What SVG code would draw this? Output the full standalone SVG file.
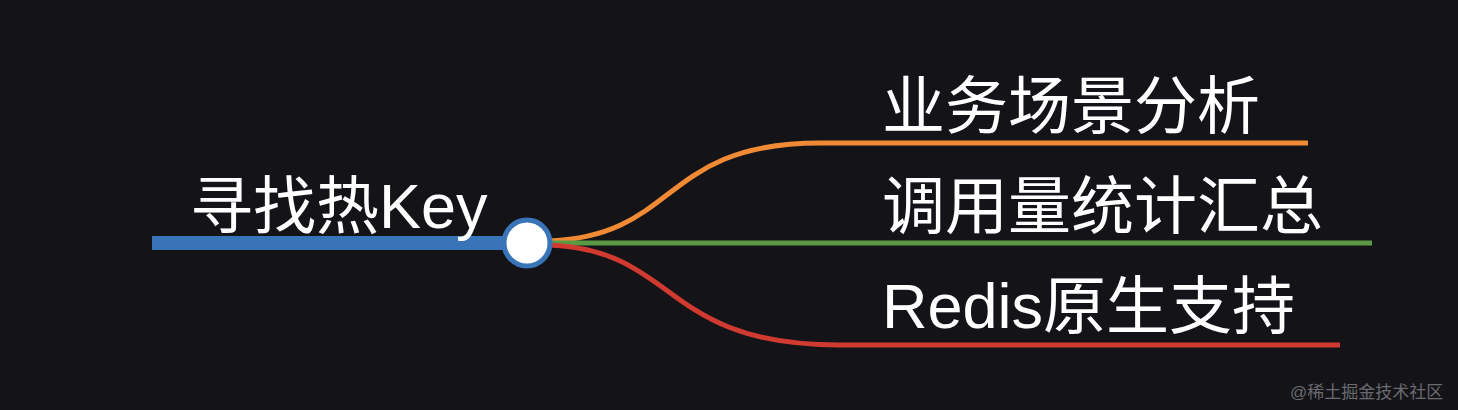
<svg xmlns="http://www.w3.org/2000/svg" width="1458" height="410" viewBox="0 0 1458 410">
<style>
.t{font-family:"Liberation Sans","Noto Sans CJK SC",sans-serif;fill:#ffffff;font-size:63px}
.c{fill:none;stroke-width:5;stroke-linecap:butt}
</style>
<rect width="1458" height="410" fill="#141418"/>
<g id="connectors">
<path class="c" stroke="#f08a35" d="M550,241 C680,235 660,143 820,143 L1308,143"/>
<path class="c" stroke="#5a9a45" d="M550,243 L1372,243"/>
<path class="c" stroke="#d03a30" d="M550,245 C680,251 660,345 840,345 L1340,345"/>
</g>
<g id="root">
<rect x="152" y="236" width="360" height="14" fill="#3a74b8"/>
<text class="t" x="190" y="228">寻找热Key</text>
<circle cx="527" cy="243" r="23" fill="#ffffff" stroke="#3a74b8" stroke-width="5"/>
</g>
<g id="n1"><text class="t" x="882" y="128">业务场景分析</text></g>
<g id="n2"><text class="t" x="882" y="228">调用量统计汇总</text></g>
<g id="n3"><text class="t" x="882" y="328">Redis原生支持</text></g>
<text x="1290" y="398" font-family="Liberation Sans,Noto Sans CJK SC,sans-serif" font-size="17" fill="#6a6a70">@稀土掘金技术社区</text>
</svg>
